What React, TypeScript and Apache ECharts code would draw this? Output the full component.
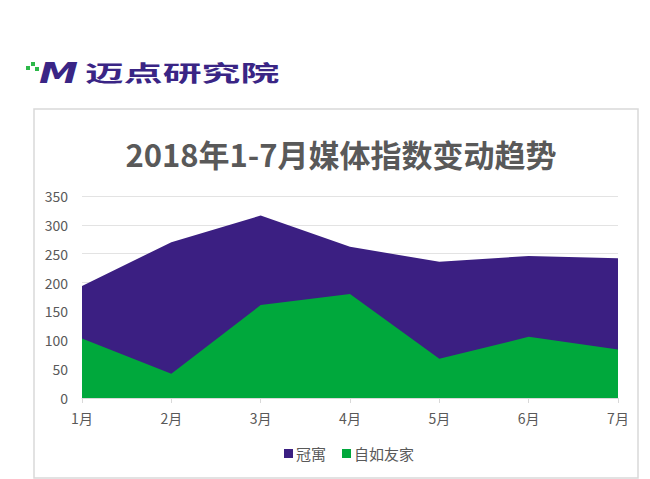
import React, { useEffect, useRef } from "react";
import * as echarts from "echarts";

const months = ["1月", "2月", "3月", "4月", "5月", "6月", "7月"];
const guanyu = [194, 270, 316, 262, 236, 246, 242];
const ziru = [103, 42, 161, 180, 68, 106, 84];
const seriesNames = ["冠寓", "自如友家"];
const colors = ["#3b1f82", "#00a83c"];
const titleText = "2018年1-7月媒体指数变动趋势";

const FONT = "'Noto Sans CJK SC', 'Microsoft YaHei', sans-serif";

export default function App() {
  const ref = useRef<HTMLDivElement>(null);
  useEffect(() => {
    document.body.style.margin = "0";
    const chart = echarts.init(ref.current!, null, { renderer: "svg" });
    chart.setOption({
      animation: false,
      backgroundColor: "#ffffff",
      textStyle: { fontFamily: FONT },
      title: {
        text: titleText,
        left: 336,
        top: 133,
        textAlign: "center",
        textStyle: { fontSize: 31, fontWeight: "bold", color: "#595959", fontFamily: FONT },
      },
      graphic: [
        {
          type: "rect",
          shape: { x: 34, y: 109, width: 604, height: 369 },
          style: { fill: "none", stroke: "#d9d9d9", lineWidth: 1.5 },
          z: -1,
        },
        { type: "rect", shape: { x: 26, y: 66, width: 4, height: 4 }, style: { fill: "#2db84a" } },
        { type: "rect", shape: { x: 31, y: 62, width: 4, height: 4 }, style: { fill: "#2db84a" } },
        { type: "rect", shape: { x: 35, y: 67, width: 4, height: 4 }, style: { fill: "#2db84a" } },
        {
          type: "text",
          x: 39,
          y: 59,
          style: {
            text: "M",
            fontSize: 28,
            fontWeight: "bold",
            fontStyle: "italic",
            fill: "#3a2585",
            fontFamily: "'DejaVu Sans', sans-serif",
          },
          scaleX: 1.4,
        },
        {
          type: "text",
          x: 85,
          y: 60,
          scaleX: 1.62,
          scaleY: 0.92,
          style: {
            text: "迈点研究院",
            fontSize: 24,
            fontWeight: "bold",
            fill: "#3a2585",
            fontFamily: FONT,
          },
        },
      ],
      legend: {
        data: seriesNames,
        left: 279,
        top: 441,
        itemWidth: 9,
        itemHeight: 9,
        itemGap: 16,
        icon: "rect",
        textStyle: { fontSize: 15, color: "#595959", fontFamily: FONT, padding: [0, 0, 0, -2] },
      },
      grid: { left: 82, right: 32, top: 196, bottom: 81, containLabel: false },
      xAxis: {
        type: "category",
        data: months,
        boundaryGap: false,
        axisLine: { lineStyle: { color: "#d9d9d9" } },
        axisTick: { show: true, length: 5, lineStyle: { color: "#d9d9d9" } },
        axisLabel: { color: "#595959", fontSize: 14, margin: 13, fontFamily: FONT },
        splitLine: { show: false },
      },
      yAxis: {
        type: "value",
        min: 0,
        max: 350,
        interval: 50,
        axisLine: { show: false },
        axisTick: { show: false },
        axisLabel: { color: "#595959", fontSize: 14, margin: 14, fontFamily: FONT },
        splitLine: { lineStyle: { color: "#e3e3e3" } },
      },
      series: [
        {
          name: seriesNames[0],
          type: "line",
          data: guanyu,
          symbol: "none",
          lineStyle: { width: 0 },
          itemStyle: { color: colors[0] },
          areaStyle: { color: colors[0], opacity: 1 },
          z: 2,
        },
        {
          name: seriesNames[1],
          type: "line",
          data: ziru,
          symbol: "none",
          lineStyle: { width: 0 },
          itemStyle: { color: colors[1] },
          areaStyle: { color: colors[1], opacity: 1 },
          z: 3,
        },
      ],
    });
    return () => chart.dispose();
  }, []);
  return <div ref={ref} style={{ width: 650, height: 479 }} />;
}
